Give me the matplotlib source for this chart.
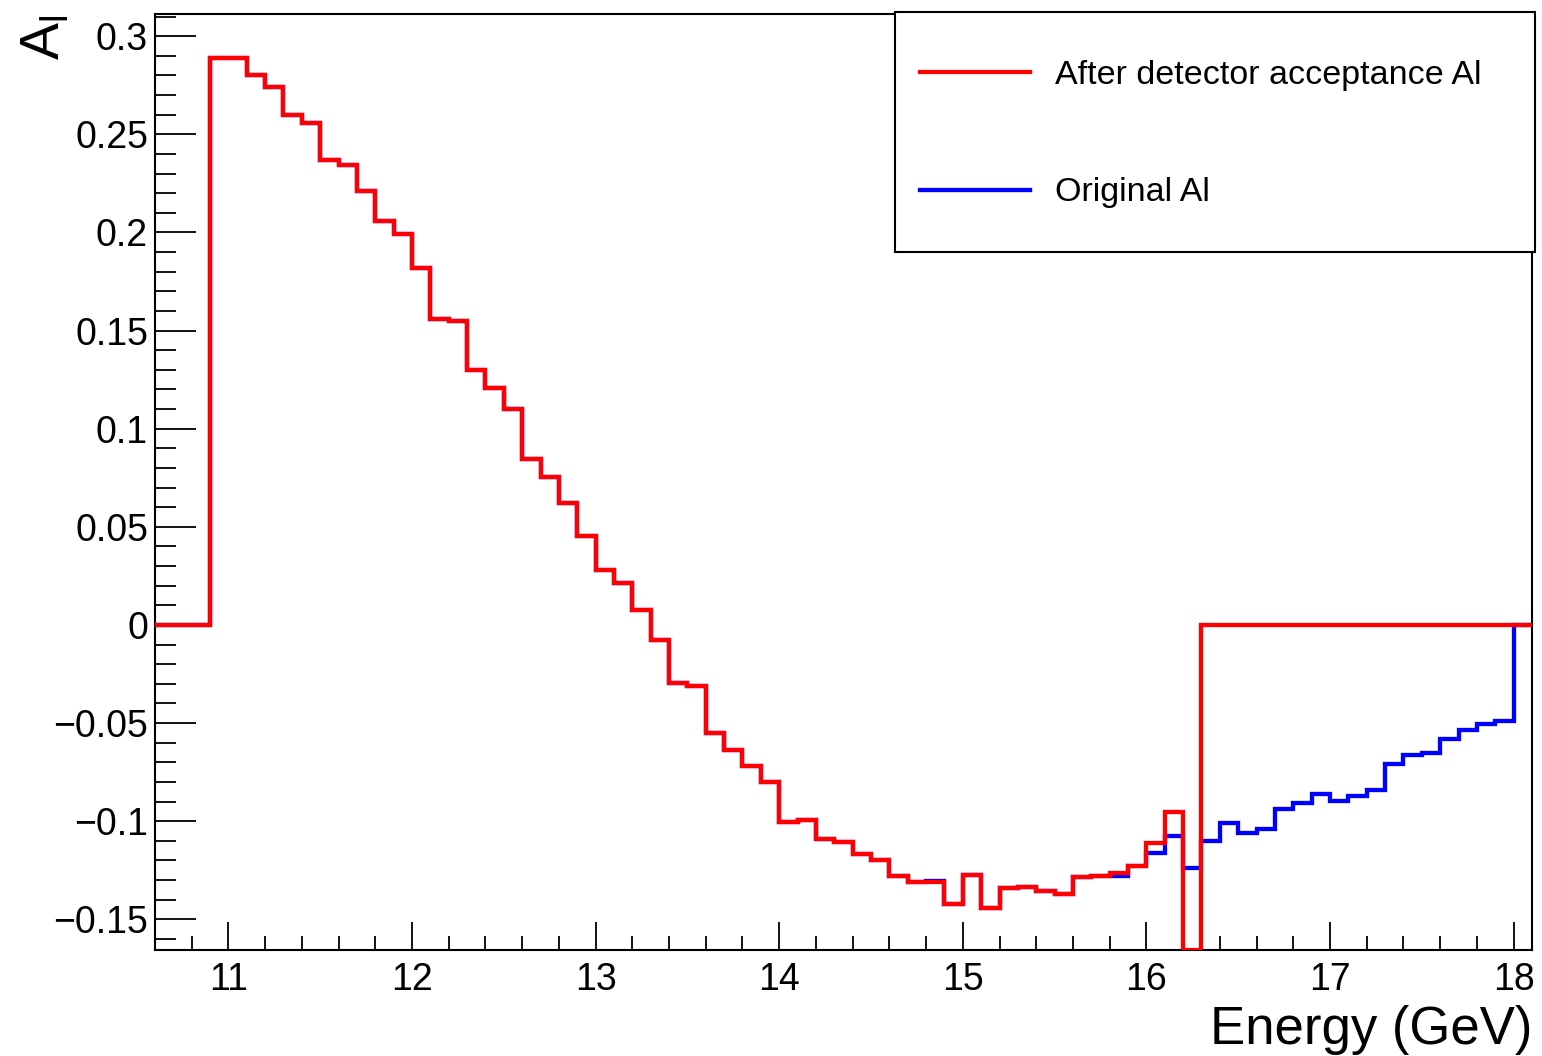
import numpy as np
import matplotlib.pyplot as plt
from matplotlib.ticker import MultipleLocator, FuncFormatter
from matplotlib.patches import Rectangle

plt.rcParams["font.family"] = ["Liberation Sans", "DejaVu Sans"]

# binning: 75 bins of 0.1 GeV
e_min, e_max, n_bins = 10.6, 18.1, 75

# asymmetry after detector acceptance (red); bin 16.2-16.3 runs down to the frame
acc_al = [0.0, 0.0, 0.0, 0.289, 0.289, 0.280, 0.274, 0.260, 0.2557, 0.237,
          0.2343, 0.221, 0.206, 0.199, 0.182, 0.156, 0.155, 0.130, 0.121, 0.110,
          0.0846, 0.0754, 0.062, 0.0453, 0.028, 0.0214, 0.0076, -0.0076, -0.0295, -0.031,
          -0.055, -0.0637, -0.0718, -0.080, -0.1004, -0.0993, -0.109, -0.1105, -0.1167, -0.1197,
          -0.1279, -0.1309, -0.131, -0.1421, -0.1274, -0.1442, -0.134, -0.1335, -0.1355, -0.137,
          -0.1284, -0.1279, -0.1263, -0.1228, -0.111, -0.0953, -0.1655, 0.0, 0.0, 0.0,
          0.0, 0.0, 0.0, 0.0, 0.0, 0.0, 0.0, 0.0, 0.0, 0.0,
          0.0, 0.0, 0.0, 0.0, 0.0]

# original asymmetry (blue)
orig_al = [0.0, 0.0, 0.0, 0.289, 0.289, 0.280, 0.274, 0.260, 0.2557, 0.237,
           0.2343, 0.221, 0.206, 0.199, 0.182, 0.156, 0.155, 0.130, 0.121, 0.110,
           0.0846, 0.0754, 0.062, 0.0453, 0.028, 0.0214, 0.0076, -0.0076, -0.0295, -0.031,
           -0.055, -0.0637, -0.0718, -0.080, -0.1004, -0.0993, -0.109, -0.1105, -0.1167, -0.1197,
           -0.1279, -0.1309, -0.1305, -0.1421, -0.1274, -0.1442, -0.134, -0.1335, -0.1355, -0.137,
           -0.1284, -0.128, -0.128, -0.1228, -0.1161, -0.1075, -0.1238, -0.110, -0.1009, -0.106,
           -0.1039, -0.0937, -0.0907, -0.0861, -0.0897, -0.0871, -0.0841, -0.0708, -0.0662, -0.0652,
           -0.0581, -0.0535, -0.0504, -0.0489, 0.0]

labels = ["After detector acceptance Al", "Original Al"]

edges = np.linspace(e_min, e_max, n_bins + 1)

fig = plt.figure(figsize=(15.42, 10.56), dpi=100)
ax = fig.add_axes([0.1005, 0.1004, 0.8930, 0.8863])

h_orig = ax.stairs(orig_al, edges, baseline=None, color="#0000ff", linewidth=3.1, zorder=2)
h_acc = ax.stairs(acc_al, edges, baseline=None, color="#ff0000", linewidth=3.1, zorder=3)

ax.set_xlim(e_min, e_max)
ax.set_ylim(-0.1656, 0.3113)

# ROOT-like axes: ticks inside, only bottom/left
for s in ax.spines.values():
    s.set_linewidth(1.5)
ax.xaxis.set_major_locator(MultipleLocator(1))
ax.xaxis.set_minor_locator(MultipleLocator(0.2))
ax.yaxis.set_major_locator(MultipleLocator(0.05))
ax.yaxis.set_minor_locator(MultipleLocator(0.01))
fmt = FuncFormatter(lambda v, p: f"{v:g}".replace("-", "\u2212") if abs(v) > 1e-9 else "0")
ax.yaxis.set_major_formatter(fmt)
ax.xaxis.set_major_formatter(FuncFormatter(lambda v, p: f"{v:g}"))
ax.tick_params(axis="both", which="both", direction="in", width=1.3, labelsize=27)
ax.tick_params(axis="x", which="major", length=20, pad=9)
ax.tick_params(axis="x", which="minor", length=10)
ax.tick_params(axis="y", which="major", length=29.5, pad=5)
ax.tick_params(axis="y", which="minor", length=15)

ax.set_xlabel("Energy (GeV)", fontsize=38, loc="right", labelpad=5)
ax.set_ylabel("A$_{\\mathregular{l}}$", fontsize=40, loc="top")
ax.yaxis.set_label_coords(-0.061, 1.0)

# legend box (drawn separately so the entries can sit where ROOT puts them)
fig.add_artist(Rectangle((0.5804, 0.7614), 0.4151, 0.2273, transform=fig.transFigure,
                         facecolor="white", edgecolor="black", linewidth=1.5, zorder=2))
leg = fig.legend([h_acc, h_orig], labels, loc="upper left",
                 bbox_to_anchor=(920 / 1542, 1 - 60 / 1056),
                 bbox_transform=fig.transFigure, borderaxespad=0, borderpad=0,
                 fontsize=24.5, handlelength=3.23, handletextpad=0.73,
                 labelspacing=2.54, frameon=False)
leg.set_zorder(5)
for ln in leg.get_lines():
    ln.set_linewidth(3.1)

fig.savefig("out.png", dpi=100)
